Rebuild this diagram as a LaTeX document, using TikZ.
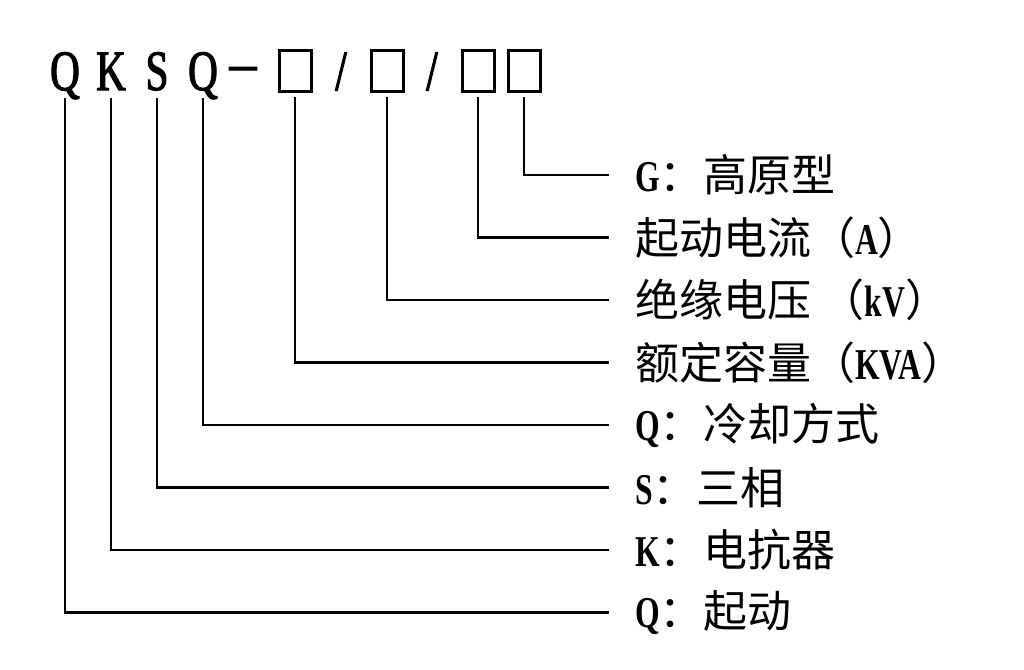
\documentclass[tikz,border=0pt]{standalone}
\usepackage{fontspec}
\setmainfont{Liberation Serif}
\newfontfamily\cjk{Noto Sans CJK SC}
\newfontfamily\lat{Liberation Serif}[FakeStretch=0.72]
\newfontfamily\codefont{Liberation Serif}[FakeStretch=0.72, FakeBold=2]
\newcommand\ltr[1]{{\lat\bfseries\fontsize{44}{48}\selectfont #1}}
\usetikzlibrary{positioning}
\tikzset{
    code/.style={anchor=base, font=\fontsize{57}{60}\selectfont\codefont, inner sep=0pt, text depth=0pt, outer ysep=8pt},
    slot/.style={draw, line width=3pt, minimum width=32pt, minimum height=40pt, inner sep=0pt, outer sep=6pt},
    desc/.style={anchor=west, font=\fontsize{44}{48}\selectfont\cjk, inner sep=0pt, outer xsep=26pt},
    wire/.style={line width=2.8pt}
}

\begin{document}
\begin{tikzpicture}[x=1pt, y=-1pt]
\useasboundingbox (0,0) rectangle (1024,669);
% model code
\node[code] (q1) at (65,90) {Q};
\node[code] (k) at (111,90) {K};
\node[code] (s) at (157,90) {S};
\node[code] (q2) at (203,90) {Q};
\node[code, xscale=1.3] (dash) at (243,82) {–};
\node[slot] (b1) at (295,71) {};
\node[code] (sl1) at (341,90) {/};
\node[slot] (b2) at (387,71) {};
\node[code] (sl2) at (432,90) {/};
\node[slot] (b3) at (478,71) {};
\node[slot] (b4) at (524,71) {};
% meanings
\node[desc] (lg) at (609,175) {\ltr{G}：高原型};
\node[desc] (lamp) at (609,237.5) {起动电流（\ltr{A}）};
\node[desc] (lkv) at (609,300) {绝缘电压 （\ltr{kV}）};
\node[desc] (lkva) at (609,362.5) {额定容量（\ltr{KVA}）};
\node[desc] (lcool) at (609,425) {\ltr{Q}：冷却方式};
\node[desc] (lthree) at (609,487.5) {\ltr{S}：三相};
\node[desc] (lreact) at (609,550) {\ltr{K}：电抗器};
\node[desc] (lstart) at (609,612.5) {\ltr{Q}：起动};
\draw[wire] (b4) |- (lg);
\draw[wire] (b3) |- (lamp);
\draw[wire] (b2) |- (lkv);
\draw[wire] (b1) |- (lkva);
\draw[wire] (q2) |- (lcool);
\draw[wire] (s) |- (lthree);
\draw[wire] (k) |- (lreact);
\draw[wire] (q1) |- (lstart);
\end{tikzpicture}
\end{document}
